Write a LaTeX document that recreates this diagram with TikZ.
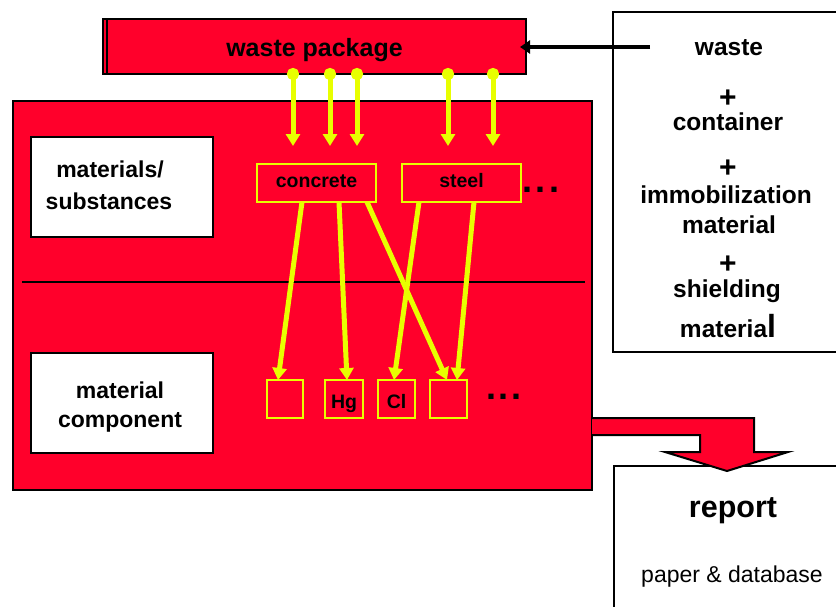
\documentclass[tikz,border=0pt]{standalone}
\usepackage{fontspec}
\setmainfont{Liberation Sans}
\usetikzlibrary{arrows.meta}
\definecolor{boxred}{RGB}{255,0,43}
\definecolor{linkyellow}{RGB}{232,255,0}

\begin{document}
\begin{tikzpicture}[x=1pt,y=-1pt,
  frame/.style={draw=black, line width=2pt, inner sep=0pt, outer sep=0pt},
  redbox/.style={frame, fill=boxred},
  whitebox/.style={frame, fill=white},
  itembox/.style={draw=linkyellow, line width=2pt, fill=boxred, inner sep=0pt, outer sep=0pt,
    font=\fontsize{19.5}{22}\selectfont\bfseries},
  lbl/.style={inner sep=0pt, anchor=base},
  bigbold/.style={lbl, font=\fontsize{24.5}{28}\selectfont\bfseries},
  plussign/.style={lbl, font=\fontsize{30}{32}\selectfont\bfseries},
  midbold/.style={lbl, font=\fontsize{23}{26}\selectfont\bfseries},
  dots/.style={lbl, font=\fontsize{36}{40}\selectfont\bfseries},
  yarrow/.style={draw=linkyellow, line width=5pt, -{Triangle[width=14pt,length=12pt]}},
  yfeed/.style={yarrow, {Circle[length=12pt]}-{Triangle[width=14pt,length=12pt]}},
  barrow/.style={draw=black, line width=4pt, -{Triangle[width=13pt,length=10pt]}},
]
\useasboundingbox (0,0) rectangle (836,606);
\clip (0,0) rectangle (836,606);

% package assembled from its parts
\node[redbox, minimum width=423pt, minimum height=55pt,
      font=\fontsize{25}{28}\selectfont\bfseries, text height=24pt, text depth=5pt]
  (wp) at (314.5,46.5) {waste package};
\draw[line width=1.2pt] ([xshift=4pt]wp.north west) -- ([xshift=4pt]wp.south west);

% list of parts
\node[whitebox, minimum width=237pt, minimum height=340pt] (parts) at (731.5,182) {};
\node[bigbold] (p1) at (729,55)  {waste};
\node[plussign] (p2) at (728,107) {+};
\node[bigbold] (p3) at (728,130) {container};
\node[plussign] (p4) at (728,177) {+};
\node[bigbold] (p5) at (726,203) {immobilization};
\node[bigbold] (p6) at (729,233) {material};
\node[plussign] (p7) at (728,273) {+};
\node[bigbold] (p8) at (727,297) {shielding};
\node[bigbold] (p9) at (728,337) {materia{\fontsize{32}{34}\selectfont l}};

\coordinate (src) at (650,47);
\draw[barrow] (src) -- ([xshift=-6pt]wp.east |- src);

% breakdown panel
\node[redbox, minimum width=579pt, minimum height=389pt] (main) at (302.5,295.5) {};
\draw[line width=2pt] (22,282) -- (585,282);

\node[whitebox, minimum width=182pt, minimum height=100pt] (lvl1) at (122,187) {};
\node[midbold] (l1a) at (110,177) {materials/};
\node[midbold] (l1b) at (109,209) {substances};
\node[whitebox, minimum width=182pt, minimum height=100pt] (lvl2) at (122,403) {};
\node[midbold] (l2a) at (120,398) {material};
\node[midbold] (l2b) at (120,427) {component};

% materials
\node[itembox, minimum width=119pt, minimum height=38pt, text height=14pt, text depth=6pt]
  (conc) at (316.5,183) {concrete};
\node[itembox, minimum width=119pt, minimum height=38pt, text height=14pt, text depth=6pt]
  (steel) at (461.5,183) {steel};
\node[dots] (md) at (541,192) {.\kern3.3pt.\kern3.3pt.};

% components
\node[itembox, minimum width=36pt, minimum height=38pt] (c1) at (285,399) {};
\node[itembox, minimum width=38pt, minimum height=38pt, text height=18pt, text depth=0pt]
  (c2) at (344,399) {Hg};
\node[itembox, minimum width=37pt, minimum height=38pt, text height=18pt, text depth=0pt]
  (c3) at (396.5,399) {Cl};
\node[itembox, minimum width=37pt, minimum height=38pt] (c4) at (448.5,399) {};
\node[dots] (cd) at (504,399) {.\kern3pt.\kern3pt.};

% feeds from the package into the materials
\foreach \n/\x in {1/293,2/330,3/357,4/448,5/493} {
  \coordinate (t\n) at (\x,146);
  \draw[yfeed] ([yshift=6pt]wp.south -| t\n) -- (t\n);
}

% materials split into components
\draw[yarrow] (conc.south -| 302,0) -- (c1.north -| 278,0);
\draw[yarrow] (conc.south -| 339,0) -- (c2.north -| 347,0);
\draw[yarrow] (conc.south -| 367,0) -- (c4.north -| 447,0);
\draw[yarrow] (steel.south -| 419,0) -- (c3.north -| 394,0);
\draw[yarrow] (steel.south -| 474,0) -- (c4.north -| 457,0);

% output
\node[whitebox, minimum width=236pt, minimum height=154pt] (rep) at (732,543) {};
\node[lbl, font=\fontsize{30.5}{34}\selectfont\bfseries] (r1) at (733,517) {report};
\node[lbl, font=\fontsize{23}{26}\selectfont] (r2) at (732,582) {paper \& database};

\filldraw[fill=boxred, draw=black, line width=2pt, line join=miter]
  (main.east |- 0,418) -- (754,418) -- (754,452) -- (788,452) -- (727,471)
  -- (665,452) -- (700,452) -- (700,435) -- (main.east |- 0,435);
\end{tikzpicture}
\end{document}
